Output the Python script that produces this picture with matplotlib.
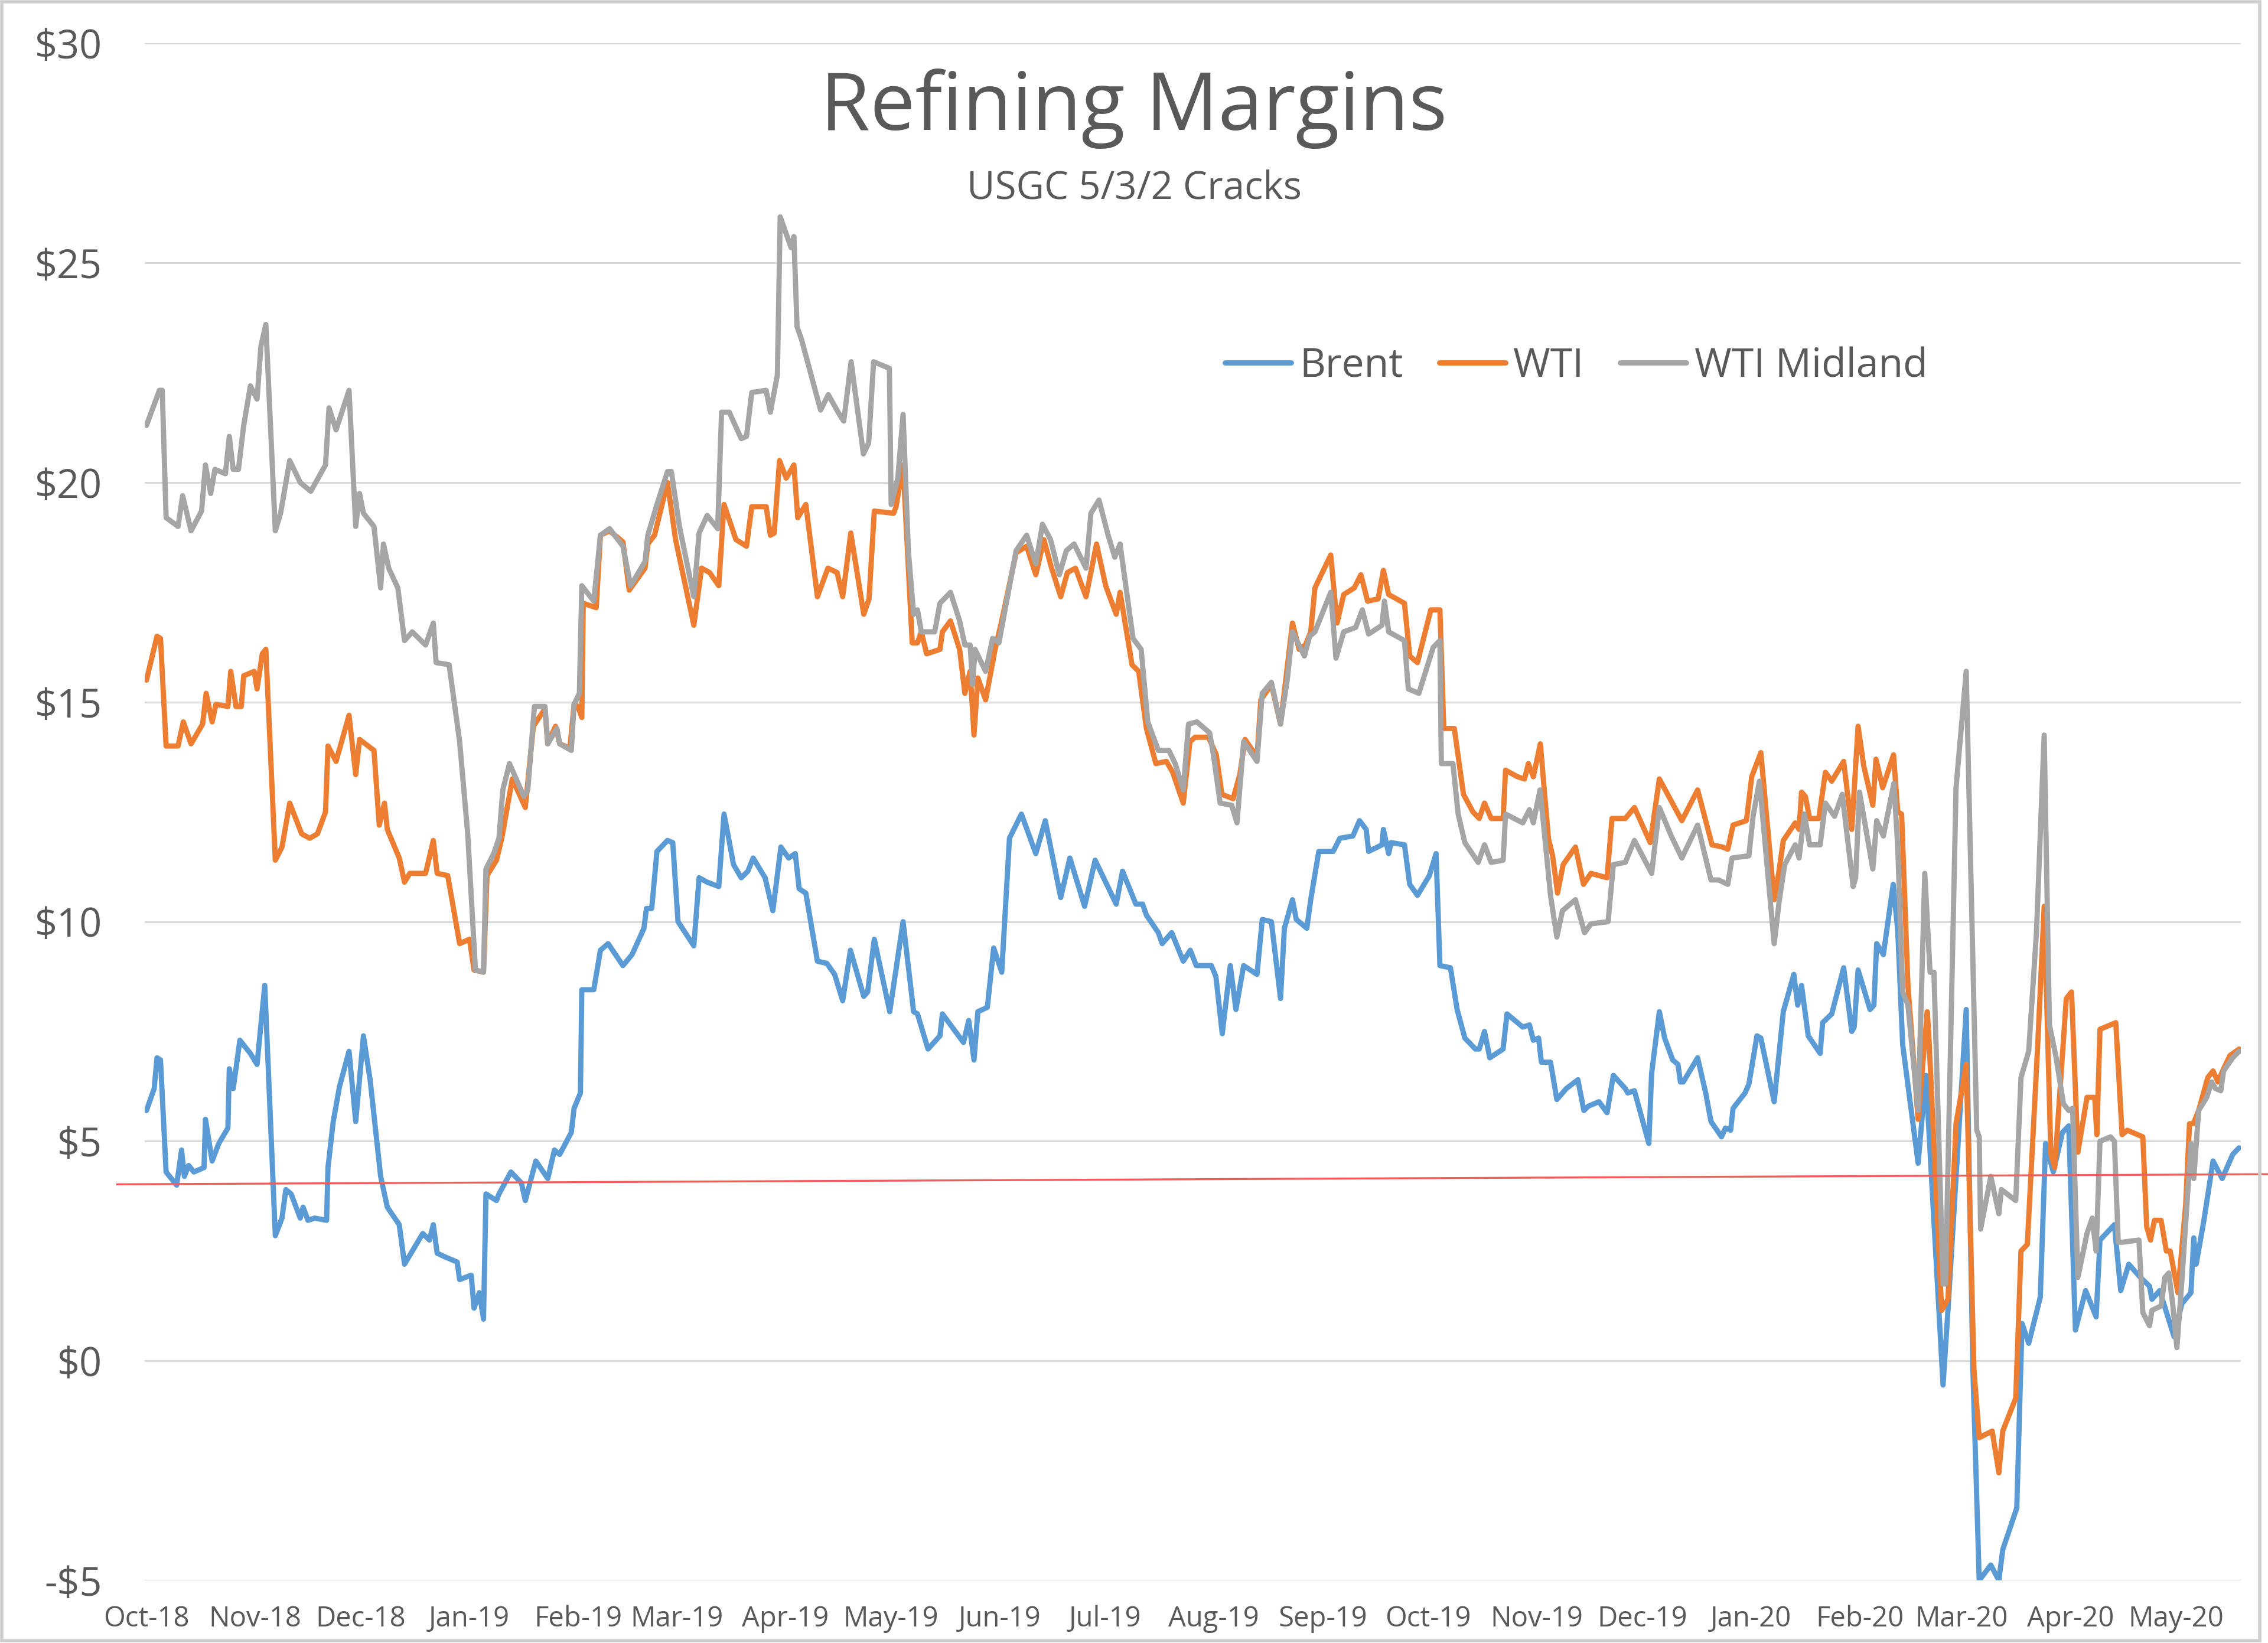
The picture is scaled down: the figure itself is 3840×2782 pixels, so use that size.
import numpy as np
import pandas as pd
import matplotlib
matplotlib.use("Agg")
import matplotlib.pyplot as plt
import matplotlib.dates as mdates
from matplotlib.ticker import FuncFormatter
from matplotlib.patches import Rectangle

plt.rcParams["font.family"] = ["Open Sans", "DejaVu Sans"]

START = pd.Timestamp("2018-10-01")

# (days after 1 Oct 2018, USGC 5/3/2 crack in $/bbl)
brent = [
    (0, 5.7), (2.2, 6.2), (3, 6.9), (4, 6.85), (5.6, 4.3), (8.6, 4.0), (10, 4.8), (10.8, 4.2),
    (12, 4.45), (13.5, 4.3), (16.4, 4.4), (16.8, 5.5), (18.7, 4.55), (20.6, 4.95), (23.2, 5.3),
    (23.6, 6.65), (24.7, 6.2), (25.5, 6.65), (26.6, 7.3), (29.6, 7.0), (31.5, 6.75), (33.7, 8.55),
    (36.7, 2.85), (38.6, 3.25), (39.7, 3.9), (41.2, 3.8), (43.8, 3.25), (44.6, 3.5), (46, 3.2),
    (47.9, 3.25), (51.3, 3.2), (51.7, 4.4), (53.2, 5.45), (55, 6.25), (57.7, 7.05), (59.6, 5.45),
    (61.8, 7.4), (63.7, 6.4), (66.7, 4.2), (68.6, 3.5), (72, 3.1), (73.5, 2.2), (74.6, 2.35),
    (78.7, 2.9), (80.6, 2.75), (81.7, 3.1), (82.8, 2.45), (85.5, 2.35), (88.5, 2.25), (89.2, 1.85),
    (92.5, 1.95), (93.3, 1.2), (94.8, 1.55), (96, 0.95), (96.7, 3.8), (99.7, 3.65), (100.4, 3.8),
    (103.8, 4.3), (106.8, 4.05), (107.9, 3.65), (110.9, 4.55), (114.3, 4.15), (116.2, 4.8),
    (117.7, 4.7), (121, 5.2), (121.8, 5.75), (123.6, 6.1), (124, 8.45), (127.4, 8.45), (129.3, 9.35),
    (131.5, 9.5), (135.7, 9.0), (138.3, 9.25), (141.7, 9.85), (142.4, 10.3), (143.9, 10.3),
    (145.4, 11.6), (148.4, 11.85), (149.9, 11.8), (151.4, 10.0), (155.9, 9.45), (157.4, 11.0),
    (159.7, 10.9), (163, 10.8), (164.5, 12.45), (165.7, 11.95), (167.2, 11.3), (169.4, 11.0),
    (171.3, 11.15), (172.8, 11.45), (176.2, 11.0), (178.4, 10.25), (180.7, 11.7), (182.9, 11.45),
    (184.8, 11.55), (185.9, 10.75), (187.8, 10.65), (191.1, 9.1), (193.8, 9.05), (196, 8.8),
    (198.3, 8.2), (200.5, 9.35), (204.3, 8.3), (205.4, 8.4), (207.3, 9.6), (211.7, 7.95),
    (215.5, 10.0), (218.5, 7.95), (219.6, 7.9), (222.6, 7.1), (226, 7.4), (226.7, 7.9), (229, 7.65),
    (232.7, 7.25), (234.2, 7.75), (235.7, 6.85), (236.8, 7.95), (239.5, 8.05), (241.3, 9.4),
    (243.6, 8.85), (245.8, 11.9), (249.2, 12.45), (253.3, 11.55), (256, 12.3), (260.4, 10.55),
    (263, 11.45), (267.2, 10.35), (270.2, 11.4), (273.2, 10.9), (276.2, 10.4), (278, 11.15),
    (281.8, 10.4), (283.7, 10.4), (284.8, 10.15), (288.2, 9.75), (289.3, 9.5), (292, 9.75),
    (295.3, 9.1), (297.3, 9.35), (299, 9.0), (303.3, 9.0), (304.6, 8.75), (306.4, 7.45),
    (308.7, 9.0), (310.3, 8.0), (312.5, 9.0), (316.3, 8.8), (317.8, 10.05), (320.4, 10.0),
    (323, 8.25), (324.1, 9.85), (326.4, 10.5), (327.5, 10.05), (330.5, 9.85), (331.6, 10.5),
    (333.9, 11.6), (338, 11.6), (339.9, 11.9), (343.6, 11.95), (345.5, 12.3), (347.4, 12.1),
    (348.1, 11.6), (351.9, 11.75), (352.3, 12.1), (353.8, 11.55), (354.5, 11.8), (358.3, 11.75),
    (359.8, 10.85), (362, 10.6), (365.4, 11.05), (367.3, 11.55), (368.4, 9.0), (371.4, 8.95),
    (373.3, 8.0), (375.5, 7.35), (378.5, 7.1), (379.6, 7.1), (381.1, 7.5), (382.6, 6.9),
    (386.4, 7.1), (387.5, 7.9), (389, 7.8), (392, 7.6), (393.9, 7.65), (395, 7.3), (396.5, 7.35),
    (397.3, 6.8), (399.9, 6.8), (401.7, 5.95), (404.4, 6.2), (407.7, 6.4), (409.4, 5.7),
    (410.7, 5.8), (413.7, 5.9), (416, 5.65), (417.8, 6.5), (421.2, 6.2), (421.9, 6.1),
    (423.8, 6.15), (427.9, 4.95), (428.7, 6.55), (430.9, 7.95), (432.4, 7.35), (434.7, 6.85),
    (436.2, 6.75), (436.9, 6.35), (437.7, 6.35), (441.8, 6.9), (444.1, 6.1), (445.6, 5.45),
    (448.6, 5.1), (449.7, 5.3), (451.2, 5.25), (451.9, 5.75), (455.3, 6.1), (456.4, 6.3),
    (458.7, 7.4), (459.8, 7.35), (463.6, 5.9), (466.2, 7.95), (469.2, 8.8), (470.3, 8.1),
    (471.4, 8.55), (473.3, 7.4), (476.7, 7.0), (477.4, 7.7), (480, 7.9), (483.4, 8.95),
    (485.7, 7.5), (486.4, 7.6), (487.5, 8.9), (490.9, 8.0), (492, 8.1), (492.8, 9.5),
    (494.7, 9.25), (497.5, 10.85), (498.8, 9.8), (500.2, 7.2), (504.6, 4.5), (506.8, 6.5),
    (511.7, -0.55), (513.1, 1.15), (518.3, 8.0), (520.2, -0.2), (522, -5.0), (525.3, -4.65),
    (527.6, -5.0), (528.7, -4.3), (532.7, -3.35), (534.2, 0.85), (536.1, 0.4), (539.4, 1.45),
    (540.9, 4.95), (543.1, 4.3), (545.7, 5.2), (547.5, 5.35), (549.4, 0.7), (552.3, 1.6),
    (555.3, 1.0), (556.4, 2.75), (560.5, 3.1), (562.3, 1.6), (564.6, 2.2), (567.9, 1.9),
    (570.5, 1.7), (571.2, 1.4), (573.4, 1.6), (577.5, 0.55), (579.7, 1.3), (582.3, 1.55),
    (583.1, 2.8), (583.8, 2.2), (586, 3.2), (588.6, 4.55), (591.2, 4.15), (594.2, 4.7), (596, 4.85),
]

wti = [
    (0, 15.5), (3, 16.5), (4, 16.45), (5.6, 14.0), (9, 14.0), (10.5, 14.55), (12.7, 14.05),
    (16, 14.5), (17, 15.2), (18.7, 14.55), (19.8, 14.95), (23.2, 14.9), (24, 15.7), (25.5, 14.9),
    (27, 14.9), (27.7, 15.6), (30.7, 15.7), (31.5, 15.3), (33, 16.1), (34, 16.2), (36.7, 11.4),
    (38.6, 11.7), (40.8, 12.7), (44.2, 12.0), (46.5, 11.9), (48.7, 12.0), (51, 12.5), (51.7, 14.0),
    (54, 13.65), (57.7, 14.7), (59.6, 13.35), (60.7, 14.15), (64.8, 13.9), (66.3, 12.2),
    (67.8, 12.7), (68.6, 12.1), (72, 11.45), (73.5, 10.9), (75, 11.1), (79.5, 11.1), (81.7, 11.85),
    (82.8, 11.1), (85.8, 11.05), (89.2, 9.5), (92, 9.6), (93.3, 8.9), (96, 8.85), (97, 11.05),
    (99.7, 11.4), (101.2, 11.9), (104.2, 13.25), (107.9, 12.6), (110.2, 14.45), (113.5, 14.85),
    (114.3, 14.05), (116.5, 14.45), (117.7, 14.05), (120.6, 13.95), (121.8, 14.95), (122.9, 14.9),
    (124, 14.65), (124.4, 17.25), (128.1, 17.15), (129.3, 18.8), (131.9, 18.9), (135.7, 18.65),
    (137.5, 17.55), (142, 18.05), (142.8, 18.6), (144.7, 18.8), (148.4, 20.0), (150.7, 18.7),
    (155.9, 16.75), (158.1, 18.05), (160.4, 17.95), (163, 17.65), (164.5, 19.5), (167.9, 18.7),
    (170.9, 18.55), (172.4, 19.45), (176.5, 19.45), (177.7, 18.8), (178.8, 18.85), (180.3, 20.5),
    (182.2, 20.1), (183.7, 20.3), (184.4, 20.4), (185.5, 19.2), (187.8, 19.5), (191.1, 17.4),
    (194.1, 18.05), (196.7, 17.95), (198.3, 17.4), (200.6, 18.85), (204.3, 17.0), (205.8, 17.35),
    (207.3, 19.35), (212.8, 19.3), (213.5, 19.45), (215.5, 20.4), (218.1, 16.35), (219.6, 16.35),
    (220.7, 16.6), (222.2, 16.1), (226, 16.2), (226.7, 16.6), (229, 16.85), (231.6, 16.2),
    (233.1, 15.2), (234.6, 15.7), (235.7, 14.25), (236.8, 15.55), (239, 15.05), (241.7, 16.2),
    (243.6, 16.85), (247.7, 18.4), (250.7, 18.55), (253.3, 17.9), (255.6, 18.7), (257.8, 18.05),
    (260.4, 17.4), (262.3, 17.95), (264.6, 18.05), (267.6, 17.4), (270.6, 18.6), (273.2, 17.65),
    (276.2, 17.0), (277.3, 17.5), (280.7, 15.85), (282.6, 15.7), (284.8, 14.4), (287.5, 13.6),
    (290.5, 13.65), (292.3, 13.4), (295.3, 12.7), (297.2, 14.1), (298.7, 14.2), (302.5, 14.2),
    (304.7, 13.8), (306.3, 12.9), (309.5, 12.8), (311.4, 13.35), (312.9, 14.15), (316.3, 13.75),
    (317.4, 15.05), (320.4, 15.4), (323, 14.5), (326.4, 16.8), (328.3, 16.2), (330.1, 16.3),
    (331.6, 16.6), (332.8, 17.6), (337.3, 18.35), (339.1, 16.8), (341, 17.45), (344, 17.6),
    (345.9, 17.9), (347.8, 17.3), (350.8, 17.35), (352.3, 18.0), (353.8, 17.45), (358.3, 17.25),
    (359.8, 16.05), (362, 15.9), (365.8, 17.1), (368.4, 17.1), (369.5, 14.4), (372.5, 14.4),
    (375.1, 12.9), (377.8, 12.5), (379.6, 12.35), (381.1, 12.7), (383, 12.35), (386.4, 12.35),
    (387.1, 13.45), (390.5, 13.3), (392.5, 13.25), (393.6, 13.6), (395, 13.3), (397, 14.05),
    (399.3, 11.9), (400.5, 11.5), (401.9, 10.65), (403.5, 11.3), (407, 11.7), (409.3, 10.85),
    (411.4, 11.1), (416, 11.0), (417.4, 12.35), (421.2, 12.35), (423.8, 12.6), (428.3, 11.8),
    (430.9, 13.25), (437.3, 12.3), (441.8, 13.0), (445.9, 11.75), (448.9, 11.7), (450.4, 11.65),
    (451.9, 12.2), (455.7, 12.3), (457.2, 13.3), (459.8, 13.85), (463.6, 10.5), (464.7, 11.0),
    (466.2, 11.85), (469.6, 12.25), (470.7, 12.1), (471.4, 12.95), (472.5, 12.85), (473.7, 12.35),
    (476.3, 12.35), (478.2, 13.4), (480, 13.2), (483.4, 13.65), (485.7, 12.1), (487.5, 14.45),
    (489.1, 13.55), (491.7, 12.65), (492.6, 13.7), (494.5, 13.05), (497.6, 13.8), (498.8, 12.5),
    (499.9, 12.45), (501.7, 8.55), (504.6, 5.5), (507.2, 7.95), (507.6, 7.5), (511.3, 1.15),
    (513.1, 1.4), (515.4, 5.4), (518.3, 6.75), (520.5, -0.2), (522, -1.75), (525.7, -1.6),
    (527.6, -2.55), (528.7, -1.6), (532.4, -0.85), (533.9, 2.5), (535.7, 2.65), (538.7, 7.25),
    (540.5, 10.35), (542.4, 4.7), (543.5, 4.4), (546.8, 8.25), (548.3, 8.4), (550.1, 4.75),
    (552.7, 6.0), (554.9, 6.0), (555.5, 5.15), (556.4, 7.55), (560.9, 7.7), (562.7, 5.15),
    (564.2, 5.25), (568.6, 5.1), (569.7, 3.05), (570.8, 2.75), (571.9, 3.2), (573.8, 3.2),
    (575.3, 2.5), (576.4, 2.5), (578.6, 1.55), (580.8, 3.55), (581.9, 5.4), (583, 5.4),
    (584.5, 5.7), (587.1, 6.45), (588.6, 6.6), (590, 6.35), (591.6, 6.65), (593.4, 6.95), (596, 7.1),
]

wti_midland = [
    (0, 21.3), (3.7, 22.1), (4.5, 22.1), (5.6, 19.2), (9, 19.0), (10.3, 19.7), (12.7, 18.9),
    (15.7, 19.35), (16.8, 20.4), (18.3, 19.75), (19.5, 20.3), (22.5, 20.2), (23.6, 21.05),
    (24.7, 20.3), (26.2, 20.3), (27.7, 21.3), (29.6, 22.2), (31.5, 21.9), (32.6, 23.1), (34, 23.6),
    (36.7, 18.9), (38.2, 19.3), (40.8, 20.5), (43.8, 20.0), (46.8, 19.8), (51, 20.4), (52, 21.7),
    (54, 21.2), (57.7, 22.1), (59.6, 19.0), (60.7, 19.75), (61.8, 19.3), (64.8, 19.0), (66.7, 17.6),
    (67.5, 18.6), (69, 18.05), (71.6, 17.6), (73.5, 16.4), (75.7, 16.6), (79.5, 16.3), (81.7, 16.8),
    (82.5, 15.9), (86.2, 15.85), (89.2, 14.1), (91.5, 12.0), (93.7, 8.9), (96, 8.85), (96.7, 11.2),
    (98.9, 11.55), (100.4, 11.9), (101.5, 13.0), (103.4, 13.6), (107.5, 12.85), (108.6, 13.0),
    (110.5, 14.9), (113.5, 14.9), (114.3, 14.05), (116.9, 14.4), (117.7, 14.05), (121, 13.9),
    (121.8, 14.95), (123.3, 15.2), (124, 17.65), (127.4, 17.3), (129.3, 18.8), (131.9, 18.95),
    (135.7, 18.55), (137.9, 17.65), (142, 18.2), (142.8, 18.8), (145.4, 19.5), (148.4, 20.25),
    (149.5, 20.25), (151.8, 19.0), (155.9, 17.4), (157.4, 18.85), (159.7, 19.25), (162.7, 18.95),
    (163.8, 21.6), (166, 21.6), (169.4, 21.0), (170.9, 21.05), (172.4, 22.05), (176.5, 22.1),
    (177.7, 21.6), (179.7, 22.45), (180.5, 26.05), (183.6, 25.35), (184.4, 25.6), (185.3, 23.55),
    (186.6, 23.25), (192, 21.65), (194.2, 22.0), (197, 21.6), (198.6, 21.4), (200.7, 22.75),
    (204.2, 20.65), (205.7, 20.9), (207.1, 22.75), (211.6, 22.6), (212.1, 19.5), (214, 20.1),
    (215.5, 21.55), (217, 18.45), (218.5, 17.0), (219.6, 17.1), (220.7, 16.6), (224.5, 16.6),
    (226, 17.25), (229, 17.5), (231.6, 16.85), (233.1, 16.3), (234.6, 16.3), (235.3, 15.4),
    (236, 16.2), (239, 15.7), (241, 16.45), (242.8, 16.35), (243.6, 16.7), (247.7, 18.45),
    (250.7, 18.8), (253.3, 18.15), (255.2, 19.05), (257.5, 18.7), (260, 17.9), (262, 18.45),
    (264.2, 18.6), (267.6, 18.05), (269, 19.3), (271.3, 19.6), (273.9, 18.8), (275.8, 18.3),
    (277.3, 18.6), (281, 16.45), (283.3, 16.2), (285.2, 14.55), (288.2, 13.9), (291.2, 13.9),
    (293, 13.6), (295.3, 13.0), (296.8, 14.5), (299.2, 14.55), (302.8, 14.3), (303.9, 13.8),
    (305.8, 12.7), (309.1, 12.65), (310.6, 12.25), (312.5, 14.1), (316.3, 13.65), (317.8, 15.2),
    (320.4, 15.45), (323, 14.5), (324.9, 15.5), (326.4, 16.6), (329.8, 16.05), (331.3, 16.5),
    (332.8, 16.6), (337.3, 17.5), (338.8, 16.0), (341, 16.6), (344.4, 16.7), (346.3, 17.1),
    (348.1, 16.55), (351.9, 16.75), (352.6, 17.3), (353.8, 16.6), (358.3, 16.4), (359.4, 15.3),
    (362.4, 15.2), (366.5, 16.25), (368.4, 16.4), (368.8, 13.6), (372.1, 13.6), (373.6, 12.45),
    (375.5, 11.8), (379.3, 11.35), (381.1, 11.75), (383, 11.35), (386.4, 11.4), (387.1, 12.45),
    (392, 12.25), (393.9, 12.55), (395, 12.25), (396.9, 13.0), (398, 12.15), (399.9, 10.6),
    (401.7, 9.65), (403.3, 10.25), (407, 10.5), (409.6, 9.75), (411.4, 9.95), (416.3, 10.0),
    (417.8, 11.3), (421.2, 11.35), (423.8, 11.85), (428.7, 11.1), (430.9, 12.6), (434.3, 11.95),
    (437.3, 11.45), (441.8, 12.2), (445.6, 10.95), (447.8, 10.95), (450.4, 10.85), (451.6, 11.45),
    (456.4, 11.5), (457.6, 12.4), (459.4, 13.2), (463.6, 9.5), (465, 10.45), (466.6, 11.3),
    (469.6, 11.75), (470.7, 11.45), (472.2, 12.45), (473.7, 11.75), (476.7, 11.75), (478.2, 12.7),
    (480.8, 12.4), (483, 12.9), (486.1, 10.8), (486.8, 11.0), (487.9, 12.95), (491.7, 11.2),
    (492.8, 12.3), (494.7, 11.95), (497.7, 13.15), (498.8, 11.7), (500.2, 8.4), (501.7, 8.1),
    (504.6, 5.7), (506.5, 11.1), (508, 8.85), (509.1, 8.85), (511.7, 1.75), (512.4, 1.75),
    (515.4, 13.05), (518.3, 15.7), (521.3, 5.25), (522, 5.1), (522.4, 3.0), (525.3, 4.2),
    (527.6, 3.35), (528.3, 3.9), (532.4, 3.65), (533.9, 6.45), (536.1, 7.05), (538.3, 9.75),
    (540.5, 14.25), (542, 7.65), (543.8, 6.95), (546, 5.85), (547.5, 5.7), (548.6, 5.75),
    (550.1, 1.9), (552.7, 2.9), (554.2, 3.25), (555.3, 2.5), (556.4, 5.0), (559.4, 5.1),
    (560.5, 5.0), (561.6, 2.7), (562.7, 2.7), (567.5, 2.75), (568.6, 1.1), (570.5, 0.8),
    (571.2, 1.15), (573.8, 1.25), (574.9, 1.9), (576, 2.0), (577.1, 1.3), (578.3, 0.3),
    (579.7, 1.8), (582.3, 4.95), (583.1, 4.15), (584.5, 5.7), (586.8, 6.0), (588.2, 6.35),
    (589.3, 6.2), (590.8, 6.15), (591.6, 6.6), (594.2, 6.9), (596, 7.05),
]

# hand-drawn red reference line (start/end)
ref_line = [(-8.3, 4.02), (606, 4.25)]

series_names = ["Brent", "WTI", "WTI Midland"]
series_colors = ["#5B9BD5", "#ED7D31", "#A5A5A5"]
y_ticks = [-5, 0, 5, 10, 15, 20, 25, 30]
TEXT = "#595959"


def to_xy(pairs):
    days, vals = zip(*pairs)
    dates = START + pd.to_timedelta(np.asarray(days, dtype=float), unit="D")
    return dates, np.asarray(vals, dtype=float)


fig = plt.figure(figsize=(38.4, 27.82), dpi=100)
ax = fig.add_axes([0.0638, 0.0381, 0.9242, 0.9355])

for pairs, name, color in zip([brent, wti, wti_midland], series_names, series_colors):
    x, y = to_xy(pairs)
    ax.plot(x, y, color=color, lw=6.4, label=name,
            solid_joinstyle="round", solid_capstyle="round")

rx, ry = to_xy(ref_line)
ax.plot(rx, ry, color="#F45C5C", lw=2.4, clip_on=False, zorder=5)

ax.set_ylim(-5, 30)
ax.set_yticks(y_ticks)
ax.yaxis.set_major_formatter(FuncFormatter(
    lambda v, p: f"${v:.0f}" if v >= 0 else f"-${abs(v):.0f}"))
ax.set_xlim(START + pd.Timedelta(days=-0.5), START + pd.Timedelta(days=596.5))
ax.xaxis.set_major_locator(mdates.MonthLocator())
ax.xaxis.set_major_formatter(mdates.DateFormatter("%b-%y"))

ax.grid(axis="y", color="#D9D9D9", lw=2.2)
ax.set_axisbelow(True)
for s in ax.spines.values():
    s.set_visible(False)
ax.tick_params(axis="y", length=0, pad=52, labelsize=48, labelcolor=TEXT)
ax.tick_params(axis="x", length=0, pad=30, labelsize=34, labelcolor=TEXT)

fig.text(0.5, 0.921, "Refining Margins", ha="center", va="baseline",
         fontsize=98, color=TEXT)
fig.text(0.5, 0.879, "USGC 5/3/2 Cracks", ha="center", va="baseline",
         fontsize=47, color=TEXT)

leg = ax.legend(loc="center", bbox_to_anchor=(0.695, 0.777), bbox_transform=fig.transFigure,
                ncol=3, frameon=False, fontsize=49, handlelength=1.65, handletextpad=0.2,
                columnspacing=0.9)
for t in leg.get_texts():
    t.set_color(TEXT)

# light chart-area border
fig.patches.append(Rectangle((0.0008, 0.0016), 0.9955, 0.9975, transform=fig.transFigure,
                             fill=False, edgecolor="#D0D0D0", lw=4))

fig.savefig("out.png", dpi=100, facecolor="white")
